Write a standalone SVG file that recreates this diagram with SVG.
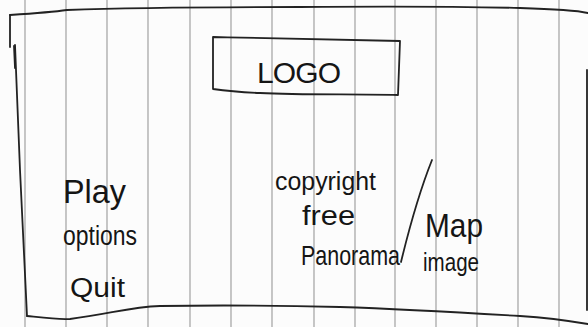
<svg xmlns="http://www.w3.org/2000/svg" width="588" height="327" viewBox="0 0 588 327">
  <style>
    .rule { stroke: #8f8f8f; stroke-width: 1; fill: none; }
    .ink { stroke: #222; stroke-width: 1.8; fill: none; stroke-linecap: round; stroke-linejoin: round; }
    .hand { font-family: "Liberation Sans", "DejaVu Sans", sans-serif; fill: #151515; font-weight: normal; }
  </style>
  <rect x="0" y="0" width="588" height="327" fill="#fcfcfc"/>
  <g id="paper-rules">
    <line class="rule" x1="25" y1="0" x2="25" y2="327"/>
    <line class="rule" x1="66" y1="0" x2="66" y2="327"/>
    <line class="rule" x1="107" y1="0" x2="107" y2="327"/>
    <line class="rule" x1="148" y1="0" x2="148" y2="327"/>
    <line class="rule" x1="190" y1="0" x2="190" y2="327"/>
    <line class="rule" x1="231" y1="0" x2="231" y2="327"/>
    <line class="rule" x1="272" y1="0" x2="272" y2="327"/>
    <line class="rule" x1="314" y1="0" x2="314" y2="327"/>
    <line class="rule" x1="355" y1="0" x2="355" y2="327"/>
    <line class="rule" x1="395" y1="0" x2="395" y2="327"/>
    <line class="rule" x1="436" y1="0" x2="436" y2="327"/>
    <line class="rule" x1="477" y1="0" x2="477" y2="327"/>
    <line class="rule" x1="518" y1="0" x2="518" y2="327"/>
    <line class="rule" x1="559" y1="0" x2="559" y2="327"/>
  </g>
  <g id="screen-frame">
    <path class="ink" d="M10,15 C40,13 60,11 67,10 C120,8 200,7 300,7 C400,6 480,7 520,8 C555,9 575,10 588,13"/>
    <path class="ink" d="M10,15 L10,47"/>
    <path class="ink" d="M14,46 L15,68" stroke-width="3"/>
    <path class="ink" d="M15,45 L20,170 L27,316"/>
    <path class="ink" d="M27,316 C45,318 60,320 70,319 C110,314 130,307 160,306 C220,305 300,306 340,307 C400,309 470,313 520,316 C550,318 570,321 588,324"/>
    <path class="ink" d="M587,70 L587,310" stroke="#666" stroke-width="1.3"/>
  </g>
  <g id="logo">
    <path class="ink" d="M213,37 C260,38 300,39 400,41 L398,95 C350,94 300,95 260,93 C235,92 220,90 213,89 Z"/>
    <text class="hand" x="257" y="83" font-size="30" textLength="84" lengthAdjust="spacing">LOGO</text>
  </g>
  <g id="menu">
    <text class="hand" x="63" y="203" font-size="34" textLength="63" lengthAdjust="spacingAndGlyphs">Play</text>
    <text class="hand" x="63" y="245" font-size="27" textLength="74" lengthAdjust="spacingAndGlyphs">options</text>
    <text class="hand" x="70" y="297" font-size="27" textLength="55" lengthAdjust="spacingAndGlyphs">Quit</text>
  </g>
  <g id="panorama">
    <text class="hand" x="275" y="190" font-size="26" textLength="101" lengthAdjust="spacingAndGlyphs">copyright</text>
    <text class="hand" x="302" y="225" font-size="28" textLength="53" lengthAdjust="spacingAndGlyphs">free</text>
    <text class="hand" x="301" y="265" font-size="28" textLength="99" lengthAdjust="spacingAndGlyphs">Panorama</text>
  </g>
  <g id="divider">
    <path class="ink" d="M432,160 C420,190 410,225 401,262"/>
  </g>
  <g id="map">
    <text class="hand" x="425" y="237" font-size="33" textLength="58" lengthAdjust="spacingAndGlyphs">Map</text>
    <text class="hand" x="423" y="271" font-size="25" textLength="56" lengthAdjust="spacingAndGlyphs">image</text>
  </g>
</svg>
